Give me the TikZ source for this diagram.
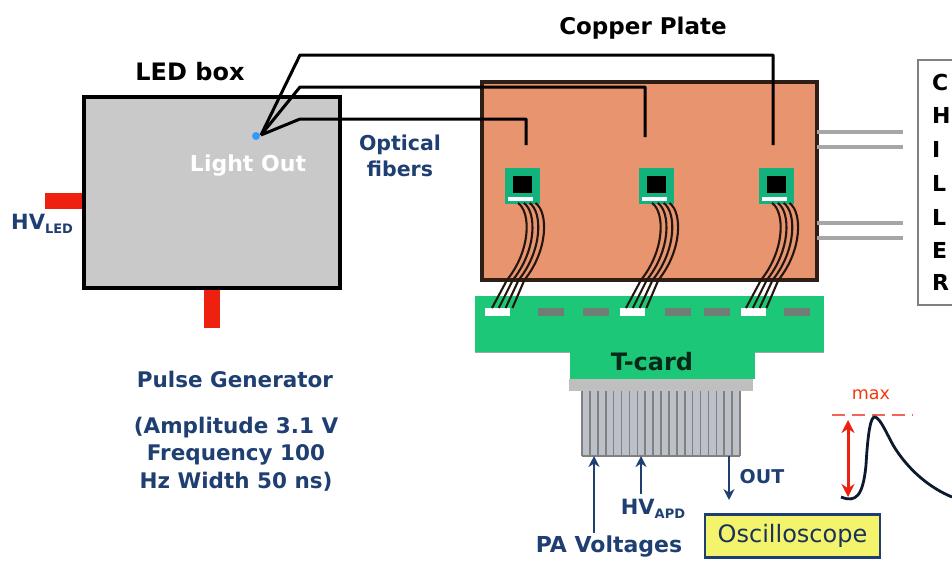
\documentclass[tikz,border=0pt]{standalone}
\usepackage{fontspec}
\setmainfont{DejaVu Sans}
\usetikzlibrary{arrows.meta}
\definecolor{copper}{HTML}{E8946F}
\definecolor{tgreen}{HTML}{1CC878}
\definecolor{chipgreen}{HTML}{12B27C}
\definecolor{ledgray}{HTML}{C9C9C9}
\definecolor{navy}{HTML}{1F3F72}
\definecolor{lred}{HTML}{EE2010}
\definecolor{pipe}{HTML}{A6A6A6}
\definecolor{oscy}{HTML}{F4F46C}
\definecolor{slot}{HTML}{6E7E74}
\definecolor{combfill}{HTML}{BCC0C8}
\tikzset{
  box/.style={draw=black,line width=3.2pt,inner sep=0pt,outer sep=0pt},
  lab/.style={inner sep=0pt,text=navy,font=\bfseries\fontsize{20.5}{20.5}\selectfont,align=center},
  blk/.style={inner sep=0pt,text=black},
  fiber/.style={draw=black,line width=3pt,line join=round},
  strand/.style={draw=black!85!copper,line width=2.1pt},
  stub/.style={fill=lred,draw=none},
  coolpipe/.style={draw=pipe,line width=3.6pt},
  signal/.style={draw=navy,line width=2.2pt,-{Stealth[length=11pt,width=11pt]}},
  chiplet/.style={inner sep=0pt,anchor=west,font=\bfseries\fontsize{22}{22}\selectfont}
}
\newcommand{\chipat}[1]{%
  \fill[chipgreen] (#1,168) rectangle ++(35,36);
  \fill[black] (#1+8,176) rectangle ++(19,17);
  \fill[white] (#1+3,197) rectangle ++(25,4);
}
\newcommand{\cableat}[1]{%
  \foreach \i in {0,1,2,3}{
    \draw[strand] (#1+13+5.8*\i,203) .. controls (#1+26+5.8*\i,212) and (#1+26+5.8*\i,250) .. (#1+2+5.8*\i,280)
      -- (#1-13+6.8*\i,308);
  }
}
\begin{document}
\begin{tikzpicture}[x=1pt,y=-1pt]
\useasboundingbox (0,0) rectangle (952,560);
% LED box
\fill[stub] (45,193) rectangle (84,209);
\fill[stub] (204,288) rectangle (220,328);
\node[box,fill=ledgray,minimum width=256pt,minimum height=191pt,anchor=north west] (led) at (84,97) {};
\node[blk,font=\bfseries\fontsize{24}{24}\selectfont] (ledt) at (190,72) {LED box};
\node[inner sep=0pt,text=white,font=\bfseries\fontsize{22}{22}\selectfont] (light) at (248,166) {Light Out};
\fill[blue!50!cyan!80!white] (256,136) circle (4);
\coordinate (src) at (261,135);
\node[lab] (opt) at (400,156) {Optical\\[5pt]fibers};
\node[lab,font=\bfseries\fontsize{21}{21}\selectfont,anchor=west] (hvled) at (11,224) {HV\raisebox{-4pt}{\fontsize{13}{13}\selectfont LED}};
% copper plate
\node[box,draw=black!80!copper,fill=copper,minimum width=335pt,minimum height=198pt,anchor=north west] (plate) at (482,82) {};
\node[blk,font=\bfseries\fontsize{23}{23}\selectfont] (cpt) at (643,28) {Copper Plate};
% coolant pipes and chiller
\node[draw=gray,line width=1.6pt,fill=white,minimum width=60pt,minimum height=245pt,anchor=north west,inner sep=0pt,outer sep=0pt] (chiller) at (918,60) {};
\foreach \y in {132,147,223,238}{ \draw[coolpipe] (817,\y) -- (903,\y); }
\node[chiplet] at (932,82) {C};
\node[chiplet] at (932,115) {H};
\node[chiplet] at (932,149) {I};
\node[chiplet] at (932,183) {L};
\node[chiplet] at (932,217) {L};
\node[chiplet] at (932,250) {E};
\node[chiplet] at (932,282) {R};
% T-card
\fill[pipe] (475,298) rectangle (824,353);
\fill[tgreen] (475,296) rectangle (824,352);
\fill[tgreen] (570,350) rectangle (755,379);
\node[inner sep=0pt,font=\bfseries\fontsize{24}{24}\selectfont,text=black!80!tgreen] (tc) at (652,362) {T-card};
\foreach \x in {538,583,665,704,784}{ \fill[slot] (\x,308) rectangle ++(26,8); }
\foreach \x in {485,620,741}{ \fill[white] (\x,308) rectangle ++(25,8); }
% comb
\fill[black!25] (569,379) rectangle (753,391);
\fill[combfill] (582,391) rectangle (740,456);
\foreach \k in {0,...,20}{ \draw[black!50,line width=1.6pt] (582+\k*7.9,391) -- (582+\k*7.9,456); }
\draw[black!50,line width=1.5pt] (582,456) -- (740,456);
\coordinate (combpa) at (594,456);
\coordinate (combhv) at (641,456);
\coordinate (combout) at (729,456);
% chips and cables
\chipat{505}\chipat{639}\chipat{759}
\cableat{505}\cableat{639}\cableat{759}
% fibers
\coordinate (f1) at (526,145);
\coordinate (f2) at (645,137);
\coordinate (f3) at (773,145);
\draw[fiber] (src) -- (300,55) -- (773,55) -- (f3);
\draw[fiber] (src) -- (300,87) -- (645,87) -- (f2);
\draw[fiber] (src) -- (300,119) -- (526,119) -- (f1);
% lower-left texts
\node[lab,font=\bfseries\fontsize{21.5}{21.5}\selectfont] (pg) at (235,379) {Pulse Generator};
\node[lab,font=\bfseries\fontsize{21.5}{21.5}\selectfont] (amp) at (236,454) {(Amplitude 3.1 V\\[6pt]Frequency 100\\[6pt]Hz Width 50 ns)};
% signals
\node[lab,font=\bfseries\fontsize{22}{22}\selectfont] (pav) at (609,547) {PA Voltages};
\node[lab,font=\bfseries\fontsize{21}{21}\selectfont] (hvapd) at (653,509) {HV\raisebox{-4pt}{\fontsize{13}{13}\selectfont APD}};
\node[lab,font=\bfseries\fontsize{19}{19}\selectfont] (out) at (762,477) {OUT};
\node[draw=navy,line width=2.8pt,fill=oscy,minimum width=175pt,minimum height=43pt,inner sep=0pt,outer sep=0pt,text=navy!80!black,font=\fontsize{24}{24}\selectfont] (osc) at (792.5,536) {Oscilloscope};
\coordinate (papt) at (594,533);
\coordinate (hvpt) at (641,494);
\coordinate (outpt) at (729,500);
\draw[signal] (papt) -- (combpa);
\draw[signal] (hvpt) -- (combhv);
\draw[signal] (combout) -- (outpt);
% pulse
\node[inner sep=0pt,text=lred!75!orange,font=\fontsize{17.5}{17.5}\selectfont] (mx) at (871,395) {max};
\draw[lred!70!white,line width=2.8pt,dash pattern=on 13pt off 7pt] (832,415) -- (913,415);
\coordinate (pk) at (848,420);
\coordinate (bt) at (848,497);
\draw[lred,line width=3pt,{Stealth[length=13pt,width=13pt]}-{Stealth[length=13pt,width=13pt]}] (pk) -- (bt);
\draw[draw=black!60!navy,line width=2.8pt] (841,497) .. controls (856,503) and (863,496) .. (866,465)
  .. controls (868,430) and (871,416) .. (875,417)
  .. controls (880,418) and (886,432) .. (893,445)
  .. controls (908,470) and (930,488) .. (952,497);
\end{tikzpicture}
\end{document}
